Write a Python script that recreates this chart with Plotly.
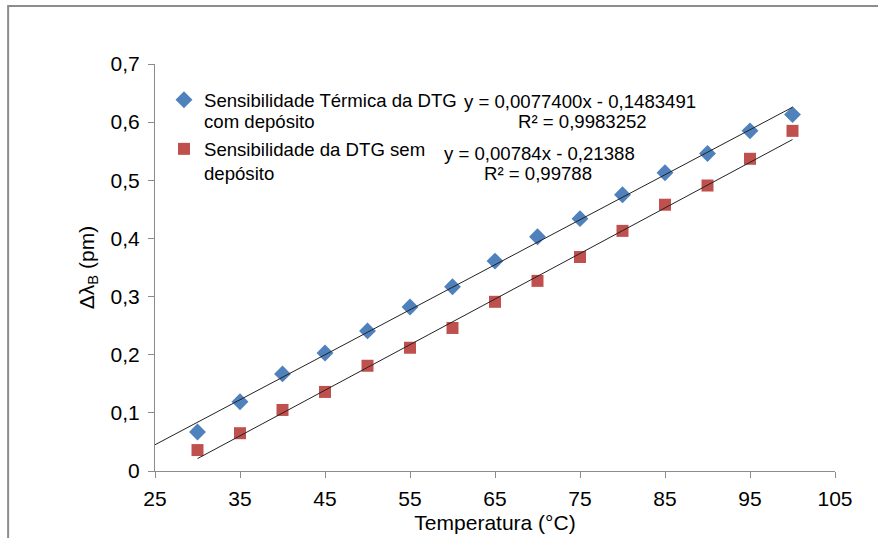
import plotly.graph_objects as go

temps = [30, 35, 40, 45, 50, 55, 60, 65, 70, 75, 80, 85, 90, 95, 100]
com_deposito = [0.067, 0.119, 0.167, 0.203, 0.241, 0.282, 0.317, 0.361, 0.403, 0.434,
                0.475, 0.513, 0.546, 0.585, 0.613]
sem_deposito = [0.036, 0.065, 0.105, 0.136, 0.181, 0.212, 0.246, 0.291, 0.327, 0.368,
                0.413, 0.458, 0.491, 0.537, 0.585]

fit_com = (0.0077400, -0.1483491)
fit_sem = (0.00784, -0.21388)
fit_com_range = [25, 100]
fit_sem_range = [30, 100]

name_com = ["Sensibilidade Térmica da DTG", "com depósito"]
name_sem = ["Sensibilidade da DTG sem", "depósito"]
eq_com = ["y = 0,0077400x - 0,1483491", "R² = 0,9983252"]
eq_sem = ["y = 0,00784x - 0,21388", "R² = 0,99788"]

y_ticks = [0, 0.1, 0.2, 0.3, 0.4, 0.5, 0.6, 0.7]
y_ticktext = ["0", "0,1", "0,2", "0,3", "0,4", "0,5", "0,6", "0,7"]
x_ticks = [25, 35, 45, 55, 65, 75, 85, 95, 105]

font = "Liberation Sans, Arial, sans-serif"
AX = 21
LG = 18.6
fig = go.Figure()

fig.add_trace(go.Scatter(x=temps, y=com_deposito, mode="markers", name=name_com[0],
                         legendgroup="a",
                         marker=dict(symbol="diamond", size=13, color="#4F81BD")))
fig.add_trace(go.Scatter(x=temps, y=sem_deposito, mode="markers", name=name_sem[0],
                         legendgroup="b",
                         marker=dict(symbol="square", size=12, color="#C0504D")))

for (a, b), rng in [(fit_com, fit_com_range), (fit_sem, fit_sem_range)]:
    fig.add_trace(go.Scatter(x=rng, y=[a * v + b for v in rng], mode="lines",
                             line=dict(color="#222222", width=1), showlegend=False,
                             hoverinfo="skip"))

def ann(text, x, y, xanchor="center"):
    fig.add_annotation(x=x, y=y, xref="paper", yref="paper", text=text, showarrow=False,
                       xanchor=xanchor, yanchor="middle", font=dict(size=LG, color="#000"))

# legend second lines
ann(name_com[1], 0.0695, 0.8575, "left")
ann(name_sem[1], 0.0695, 0.732, "left")
# equations
ann(eq_com[0], 0.625, 0.909)
ann(eq_com[1], 0.628, 0.8575)
ann(eq_sem[0], 0.566, 0.781)
ann(eq_sem[1], 0.563, 0.732)

fig.add_shape(type="rect", xref="paper", yref="paper", x0=-0.216, x1=1.07, y0=-0.3, y1=1.1425,
              line=dict(color="#8c8c8c", width=2))

fig.update_layout(
    width=878, height=538,
    margin=dict(l=155, r=43, t=64, b=67),
    paper_bgcolor="white", plot_bgcolor="white",
    font=dict(family=font, size=AX, color="#000"),
    showlegend=True,
    legend=dict(x=0.0132, y=0.958, xanchor="left", yanchor="top", valign="middle",
                bgcolor="rgba(0,0,0,0)", font=dict(size=LG), itemwidth=30,
                tracegroupgap=22),
    xaxis=dict(range=[25, 105], tickvals=x_ticks, showgrid=False, zeroline=False,
               showline=True, linecolor="#8c8c8c", linewidth=1, ticks="outside",
               ticklen=6, tickcolor="#8c8c8c", ticklabelstandoff=3, automargin=False,
               title=dict(text="Temperatura (°C)", font=dict(size=AX), standoff=6)),
    yaxis=dict(range=[0, 0.7], tickvals=y_ticks, ticktext=y_ticktext, showgrid=False,
               zeroline=False, showline=True, linecolor="#8c8c8c", linewidth=1,
               ticks="outside", ticklen=6, tickcolor="#8c8c8c", ticklabelstandoff=4,
               automargin=False,
               title=dict(text="Δλ<sub>B</sub> (pm)", font=dict(size=AX), standoff=10)),
)

fig.write_html("out.html")
